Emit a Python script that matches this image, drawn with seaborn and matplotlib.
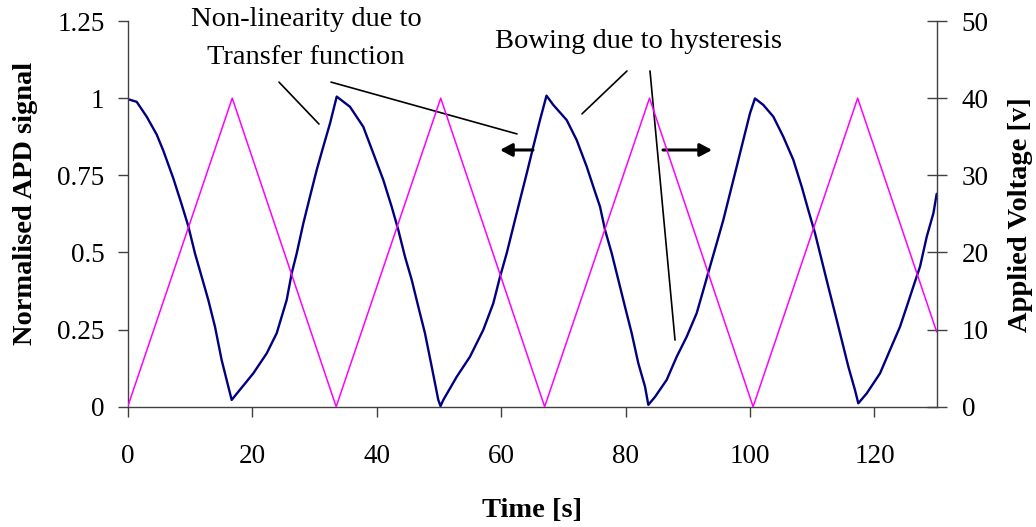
import matplotlib
matplotlib.use("Agg")
import matplotlib.pyplot as plt
import pandas as pd
import seaborn as sns

# Normalised APD signal, sampled along the trace (time [s], signal)
apd_time = [
    0.0, 1.45, 3.05, 4.66, 5.72, 7.33, 8.68, 9.74, 10.81, 11.89, 12.95, 14.03, 15.1, 16.17, 16.71,
    18.0, 20.18, 22.34, 23.94, 25.55, 26.35, 27.16, 28.22, 29.29, 30.37, 31.43, 32.51, 33.59,
    35.72, 37.86, 39.47, 41.07, 42.42, 43.48, 44.56, 45.64, 46.7, 47.77, 48.85, 49.91, 50.27,
    50.72, 52.87, 55.0, 57.14, 58.75, 59.83, 60.9, 61.96, 63.04, 64.12, 65.18, 66.25, 67.3,
    68.39, 70.54, 72.15, 73.76, 74.82, 75.9, 76.7, 77.78, 78.84, 79.91, 80.99, 82.05, 83.13, 83.66,
    84.74, 86.61, 88.22, 89.83, 91.43, 92.5, 93.57, 94.65, 95.71, 96.79, 97.86, 98.92, 100.0, 100.8,
    102.14, 103.75, 105.35, 106.96, 108.31, 109.37, 110.45, 111.52, 112.58, 113.66, 114.74, 115.8,
    116.87, 117.4,
    118.75, 120.89, 122.5, 124.1, 125.18, 126.24, 127.32, 128.4, 129.47, 130.0,
]
apd_signal = [
    0.997, 0.988, 0.94, 0.882, 0.83, 0.74, 0.655, 0.585, 0.497, 0.421, 0.346, 0.259, 0.151, 0.065, 0.022,
    0.054, 0.108, 0.173, 0.238, 0.346, 0.432, 0.497, 0.594, 0.681, 0.767, 0.843, 0.918, 1.005,
    0.972, 0.907, 0.821, 0.735, 0.648, 0.573, 0.486, 0.411, 0.324, 0.238, 0.13, 0.022, 0.002,
    0.022, 0.097, 0.162, 0.249, 0.335, 0.421, 0.497, 0.583, 0.67, 0.756, 0.843, 0.929, 1.008,
    0.978, 0.929, 0.864, 0.778, 0.713, 0.648, 0.573, 0.497, 0.411, 0.324, 0.238, 0.141, 0.065, 0.006,
    0.032, 0.087, 0.162, 0.227, 0.303, 0.378, 0.454, 0.53, 0.605, 0.692, 0.778, 0.864, 0.951, 0.999,
    0.978, 0.94, 0.875, 0.8, 0.713, 0.637, 0.562, 0.475, 0.389, 0.303, 0.216, 0.13,
    0.054, 0.011,
    0.043, 0.108, 0.184, 0.259, 0.324, 0.389, 0.454, 0.551, 0.627, 0.69,
]

# Applied voltage ramp: turning points of the triangular drive (time [s], volts)
ramp_time = [0.0, 16.8, 33.5, 50.3, 67.0, 83.85, 100.5, 117.3, 130.0]
ramp_voltage = [0, 40, 0, 40, 0, 40, 0, 40, 9.7]

time_ticks = [0, 20, 40, 60, 80, 100, 120]
signal_ticks = [0, 0.25, 0.5, 0.75, 1.0, 1.25]
signal_tick_labels = ["0", "0.25", "0.5", "0.75", "1", "1.25"]
voltage_ticks = [0, 10, 20, 30, 40, 50]

apd = pd.DataFrame({"Time [s]": apd_time, "signal": apd_signal})
ramp = pd.DataFrame({"Time [s]": ramp_time, "voltage": ramp_voltage})

sns.set_style("white")
plt.rcParams["font.family"] = ["Liberation Serif", "DejaVu Serif"]
plt.rcParams["text.color"] = "black"
plt.rcParams["axes.labelcolor"] = "black"
plt.rcParams["xtick.labelcolor"] = "black"
plt.rcParams["ytick.labelcolor"] = "black"

SPINE = "#404040"
fig = plt.figure(figsize=(10.36, 5.27), dpi=100)
ax = fig.add_axes([0.12326, 0.22827, 0.78089, 0.73188])
ax2 = ax.twinx()

sns.lineplot(data=apd, x="Time [s]", y="signal", ax=ax, color="#000080",
             linewidth=1.7, estimator=None, sort=False)
sns.lineplot(data=ramp, x="Time [s]", y="voltage", ax=ax2, color="#FF00FF",
             linewidth=1.1, estimator=None, sort=False)

ax.set_xlim(0, 130)
ax.set_ylim(0, 1.25)
ax2.set_ylim(0, 50)
ax.set_xticks(time_ticks)
ax.set_yticks(signal_ticks, labels=signal_tick_labels)
ax2.set_yticks(voltage_ticks)

for a in (ax, ax2):
    for side, sp in a.spines.items():
        sp.set_color(SPINE)
        sp.set_linewidth(1.0)
    a.spines["top"].set_visible(False)
ax.spines["right"].set_visible(False)
ax2.spines["left"].set_visible(False)
ax2.spines["bottom"].set_visible(False)

ax.tick_params(axis="x", direction="out", length=7.5, width=1, color=SPINE,
               labelsize=19.5, labelcolor="black", pad=19, bottom=True)
ax.tick_params(axis="y", direction="out", length=7.2, width=1, color=SPINE,
               labelsize=19.5, labelcolor="black", pad=9.5, left=True)
ax2.tick_params(axis="y", direction="inout", length=15, width=1, color=SPINE,
                labelsize=19.5, labelcolor="black", pad=10.4, right=True)

ax.set_xlabel("Time [s]", fontsize=20.5, fontweight="bold", color="black")
ax.xaxis.set_label_coords(0.5, -0.268)
ax.xaxis.label.set_va("center")
ax.set_ylabel("Normalised APD signal", fontsize=20.5, fontweight="bold", color="black")
ax.yaxis.set_label_coords(-0.1265, 0.528)
ax.yaxis.label.set_va("center")
ax2.set_ylabel("Applied Voltage [v]", fontsize=20.5, fontweight="bold", rotation=90,
               color="black")
ax2.yaxis.set_label_coords(1.103, 0.497)
ax2.yaxis.label.set_va("center")

# Callouts
ax.text(28.65, 1.193, "Non-linearity due to\nTransfer function", ha="center", va="center",
        fontsize=20.5, linespacing=1.69, color="black", clip_on=False)
ax.text(82.15, 1.185, "Bowing due to hysteresis", ha="center", va="center",
        fontsize=20.5, color="black", clip_on=False)

leader = dict(arrowstyle="-", color="black", lw=1.2, shrinkA=0, shrinkB=0)
for start, end in [((24.31, 1.052), (30.74, 0.916)),
                   ((32.67, 1.052), (62.56, 0.884)),
                   ((80.23, 1.088), (73.0, 0.949)),
                   ((83.93, 1.088), (87.95, 0.216))]:
    ax.annotate("", xy=end, xytext=start, arrowprops=leader, annotation_clip=False)

pointer = dict(arrowstyle="-|>,head_length=0.6,head_width=0.32", mutation_scale=12,
               color="black", lw=2.2, shrinkA=0, shrinkB=0)
ax.annotate("", xy=(59.83, 0.832), xytext=(65.13, 0.832), arrowprops=pointer)
ax.annotate("", xy=(93.9, 0.832), xytext=(86.02, 0.832), arrowprops=pointer)

fig.savefig("out.png", dpi=100)
